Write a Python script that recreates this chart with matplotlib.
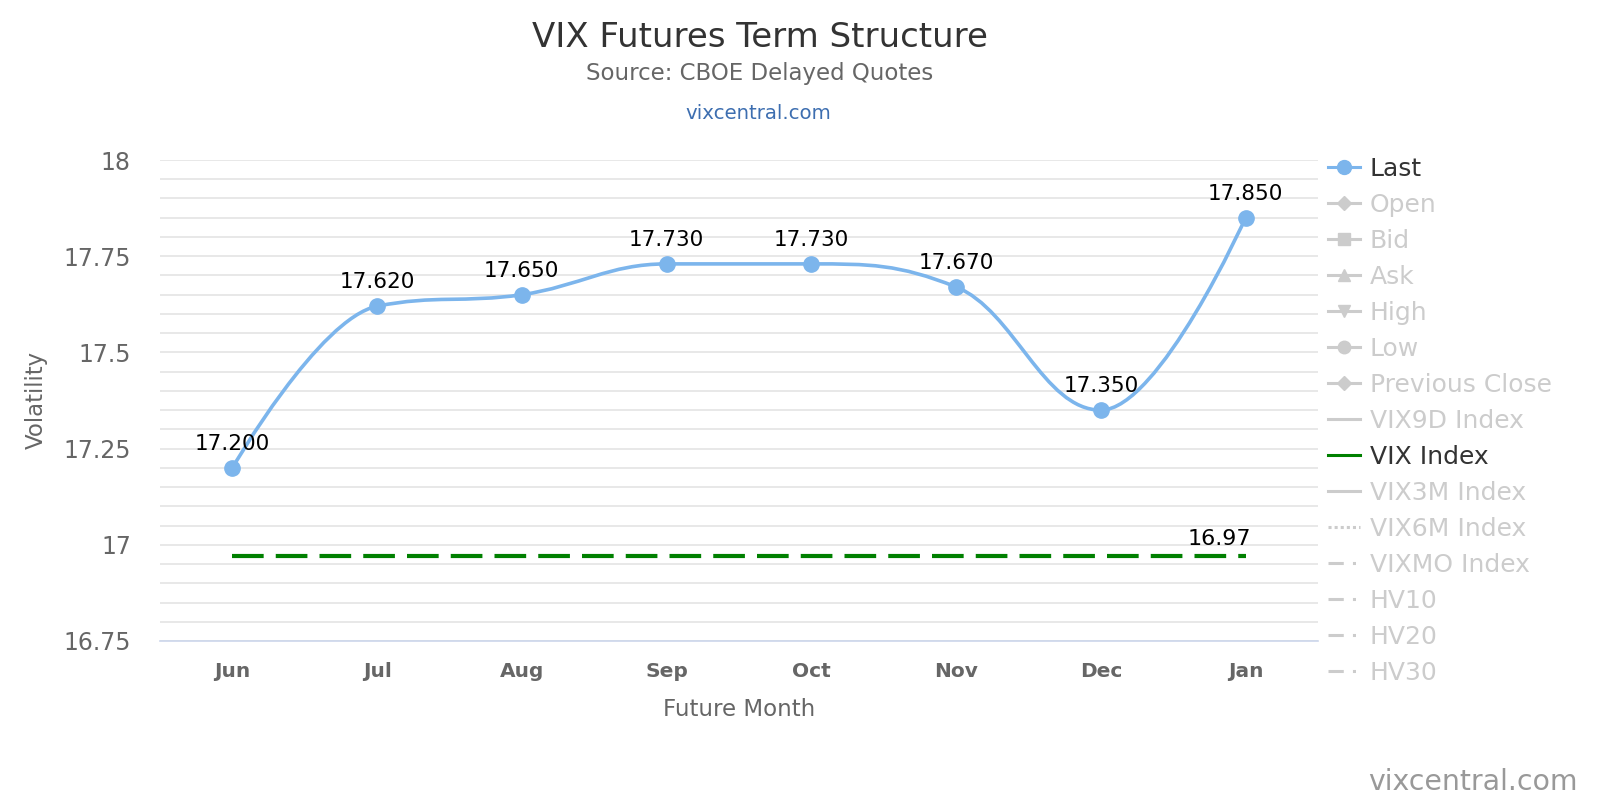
import matplotlib.pyplot as plt
import numpy as np
from matplotlib.path import Path
from matplotlib.patches import PathPatch
from matplotlib.lines import Line2D
from matplotlib.ticker import MultipleLocator

plt.rcParams['font.family'] = ['DejaVu Sans']

months = ['Jun', 'Jul', 'Aug', 'Sep', 'Oct', 'Nov', 'Dec', 'Jan']
last = [17.20, 17.62, 17.65, 17.73, 17.73, 17.67, 17.35, 17.85]
vix_index = 16.97

legend_names = ['Last', 'Open', 'Bid', 'Ask', 'High', 'Low', 'Previous Close',
                'VIX9D Index', 'VIX Index', 'VIX3M Index', 'VIX6M Index',
                'VIXMO Index', 'HV10', 'HV20', 'HV30']

blue = '#7cb5ec'
green = '#008000'
grey = '#cccccc'

W, H = 1600, 800


def spline_path(xs, ys, smoothing=1.5):
    # highcharts style spline: cubic bezier with control points per point
    denom = smoothing + 1
    n = len(xs)
    left = [None] * n
    right = [None] * n
    for i in range(n):
        px, py = xs[i], ys[i]
        if i == 0 or i == n - 1:
            left[i] = (px, py)
            right[i] = (px, py)
            continue
        lx, ly = xs[i - 1], ys[i - 1]
        nx, ny = xs[i + 1], ys[i + 1]
        lcx = (smoothing * px + lx) / denom
        lcy = (smoothing * py + ly) / denom
        rcx = (smoothing * px + nx) / denom
        rcy = (smoothing * py + ny) / denom
        if rcx != lcx:
            corr = (rcy - lcy) * (rcx - px) / (rcx - lcx) + py - rcy
            lcy += corr
            rcy += corr
        if lcy > ly and lcy > py:
            lcy = max(ly, py)
            rcy = 2 * py - lcy
        elif lcy < ly and lcy < py:
            lcy = min(ly, py)
            rcy = 2 * py - lcy
        if rcy > ny and rcy > py:
            rcy = max(ny, py)
            lcy = 2 * py - rcy
        elif rcy < ny and rcy < py:
            rcy = min(ny, py)
            lcy = 2 * py - rcy
        left[i] = (lcx, lcy)
        right[i] = (rcx, rcy)
    verts = [(xs[0], ys[0])]
    codes = [Path.MOVETO]
    for i in range(1, n):
        verts += [right[i - 1], left[i], (xs[i], ys[i])]
        codes += [Path.CURVE4] * 3
    return Path(verts, codes)


x = np.arange(len(months))

fig = plt.figure(figsize=(16, 8), dpi=100)
ax = fig.add_axes([160 / W, (H - 641) / H, 1158 / W, 481 / H])

ax.set_xlim(-0.5, len(months) - 0.5)
ax.set_ylim(16.75, 18.0)

ax.yaxis.set_major_locator(MultipleLocator(0.25))
ax.yaxis.set_minor_locator(MultipleLocator(0.05))
ax.grid(axis='y', which='both', color='#e2e2e2', linewidth=1.1)
ax.set_axisbelow(True)
for s in ['top', 'right', 'left']:
    ax.spines[s].set_visible(False)
ax.spines['bottom'].set_color('#ccd6eb')
ax.spines['bottom'].set_linewidth(1.2)
ax.tick_params(axis='both', which='both', length=0)
ax.tick_params(axis='y', labelsize=17, labelcolor='#666666', pad=21)
ax.tick_params(axis='x', labelsize=14.5, labelcolor='#666666', pad=15)
ax.set_xticks(x)
ax.set_xticklabels(months, fontweight='bold')
ax.yaxis.set_major_formatter(lambda v, p: f'{v:g}')

# VIX index dashed line
ax.plot([x[0], x[-1]], [vix_index, vix_index], color=green, linewidth=3,
        dashes=(7.6, 2.9), zorder=3)
ax.annotate(f'{vix_index:.2f}', (x[-1], vix_index), xytext=(4, 8),
            textcoords='offset points', ha='right', va='baseline',
            fontsize=16, color='black', zorder=6)

# Last spline
ax.add_patch(PathPatch(spline_path(list(x), last), facecolor='none',
                       edgecolor=blue, linewidth=2.6, zorder=4))
ax.plot(x, last, linestyle='none', marker='o', markersize=11,
        color=blue, zorder=5)
for xi, v in zip(x, last):
    ax.annotate(f'{v:.3f}', (xi, v), xytext=(0, 13), textcoords='offset points',
                ha='center', va='baseline', fontsize=15.5, color='black',
                zorder=6)

fig.text(739 / W, 1 - 709 / H, 'Future Month', ha='center', va='center',
         fontsize=16.5, color='#666666')
fig.text(36 / W, 1 - 400 / H, 'Volatility', ha='center', va='center',
         rotation=90, fontsize=16.5, color='#666666')

fig.text(760 / W, 1 - 47 / H, 'VIX Futures Term Structure', ha='center',
         va='baseline', fontsize=24.5, color='#333333')
fig.text(760 / W, 1 - 80 / H, 'Source: CBOE Delayed Quotes', ha='center',
         va='baseline', fontsize=16.5, color='#666666')
fig.text(758 / W, 1 - 119 / H, 'vixcentral.com', ha='center', va='baseline',
         fontsize=14.2, color='#3d6eb0')
fig.text(1578 / W, 1 - 790 / H, 'vixcentral.com', ha='right', va='baseline',
         fontsize=20.4, color='#999999')

# legend
dashdot = (0, (5, 3, 1, 3))
styles = {
    'Last': dict(color=blue, marker='o', linestyle='-'),
    'Open': dict(color=grey, marker='D', linestyle='-'),
    'Bid': dict(color=grey, marker='s', linestyle='-'),
    'Ask': dict(color=grey, marker='^', linestyle='-'),
    'High': dict(color=grey, marker='v', linestyle='-'),
    'Low': dict(color=grey, marker='o', linestyle='-'),
    'Previous Close': dict(color=grey, marker='D', linestyle='-'),
    'VIX9D Index': dict(color=grey, linestyle='-'),
    'VIX Index': dict(color=green, linestyle='-'),
    'VIX3M Index': dict(color=grey, linestyle='-'),
    'VIX6M Index': dict(color=grey, linestyle=(0, (1, 1))),
    'VIXMO Index': dict(color=grey, linestyle=dashdot),
    'HV10': dict(color=grey, linestyle=dashdot),
    'HV20': dict(color=grey, linestyle=dashdot),
    'HV30': dict(color=grey, linestyle=dashdot),
}
handles = []
for name in legend_names:
    st = styles[name]
    ms = {'Last': 10, 'Open': 7.5, 'Previous Close': 7.5, 'Low': 9}.get(name, 9)
    handles.append(Line2D([], [], linewidth=2.2, markersize=ms, **st))
leg = fig.legend(handles, legend_names, loc='upper left',
                 bbox_to_anchor=(1328 / W, 1 - 157 / H), frameon=False,
                 fontsize=18, handlelength=1.28, handletextpad=0.4,
                 labelspacing=0.48, borderpad=0, borderaxespad=0)
for t, name in zip(leg.get_texts(), legend_names):
    t.set_color('#333333' if name in ('Last', 'VIX Index') else grey)

fig.savefig('out.png', dpi=100)
